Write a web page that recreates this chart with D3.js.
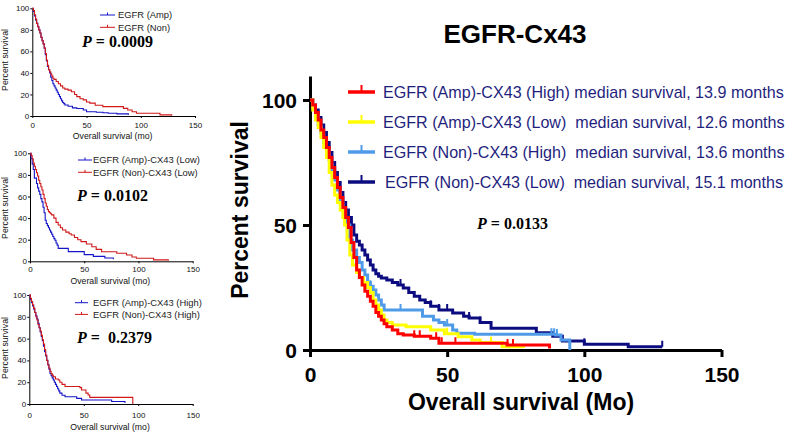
<!DOCTYPE html>
<html>
<head>
<meta charset="utf-8">
<script src="https://cdn.jsdelivr.net/npm/d3@7"></script>
<style>
  body { margin: 0; background: #fff; }
  svg { display: block; }
  text { white-space: pre; }
</style>
</head>
<body>
<svg id="chart" width="792" height="435"></svg>
<script>
// ---------------- DATA ----------------
// Main panel (EGFR-Cx43): [months, percent survival]
const mainTitle = "EGFR-Cx43";
const mainLegend = [
  "EGFR (Amp)-CX43 (High) median survival, 13.9 months",
  "EGFR (Amp)-CX43 (Low)  median survival, 12.6 months",
  "EGFR (Non)-CX43 (High)  median survival, 13.6 months",
  "EGFR (Non)-CX43 (Low)  median survival, 15.1 months"
];
const mainColors = ["#ff0000", "#ffff00", "#4f9be8", "#0c0c80"];
const ampHigh = [[0,100],[1,98],[2,95],[3,92],[4,88],[5,85],[6,81],[7,77],[8,73],[9,69],[10,65],[11,61],[12,57],[13,53],[14,49],[15,43],[16,37],[17,32],[18,29],[19,26],[20,23.5],[21,21.5],[22,19.5],[23,17.5],[24,15],[25,13.5],[26,12],[27,10.5],[28,9.3],[30,8],[32,6.5],[34,6],[38,5.5],[44,4.7],[47,2.7],[71.8,2],[87.3,0.6]];
const ampLow = [[0,100],[1,96],[2,92],[3,89],[4,85],[5,81],[6,77],[7,71],[8,66],[9,62],[10,59],[11,56],[12,53],[12.6,50],[13.5,44],[14.5,38],[15.5,34],[17,31],[18,29],[19.5,27],[21,25],[22,23],[23,20],[24,18],[25,16],[26,14],[27,12],[28,11],[30,10],[35,9.3],[44,8],[49,6.5],[54,5.3],[59,4],[62,3],[70,1.3],[77.8,0.8]];
const nonHigh = [[0,100],[1,97],[2,94],[3,90],[4,87],[5,83],[6,80],[7,76],[8,72],[9,68],[10,64],[11,60],[12,56],[13,52],[13.6,50],[14.5,44],[15.5,40],[17,37],[18,35],[19,32],[20,30],[21,27],[22,25.5],[23,24],[24,22],[25,20],[26,18],[27,16],[40,16],[41,13.5],[45,12],[47,11],[49,10],[52,8],[53.5,6.7],[60,6.3],[89.5,6],[91.5,4],[94.7,0]];
const nonLow = [[0,100],[1,98],[2,96],[3,93],[4,90],[5,87],[6,83],[7,79],[8,75],[9,71],[10,67],[11,63],[12,59],[13,56],[14,53],[15.1,50],[16,46],[17,43.5],[18,42],[19,40],[20,38],[21,36],[22,34],[23,32],[24,30.5],[25,29.5],[26,28.8],[28,28],[30,27],[32,26],[34,24.8],[36,23],[38,21.5],[40,20],[42,19],[44,17.5],[47,16],[52,14.8],[56,13.5],[58,12.8],[62,11],[66,8.7],[82.5,6.9],[88.5,5.5],[92,3.6],[100,2.3],[116,1.3],[128.4,1.3]];
const mainCensors = [
  [38, 40, 46, 48, 53, 72, 74],
  [50, 66],
  [16, 22, 27, 33, 50, 88, 89, 90],
  [33, 44, 47, 50, 58, 62, 100, 128.4]
];
const mainP = "0.0133";
const mainXTicks = [0, 50, 100, 150];
const mainYTicks = [0, 50, 100];

// Small panels
const p1Legend = ["EGFR (Amp)", "EGFR (Non)"];
const p1Amp = [[0,100],[1,97],[2,93],[3,89],[4,86],[5,83],[6,80],[7,77],[8,73],[9,70],[10,67],[11,63],[12,57],[13,51],[14,46],[15,43],[16,40],[17,36],[18,33],[19,30],[20,28],[21,26],[22,24],[23,22],[24,20],[25,18],[26,16],[27,14],[28,12.5],[29,11.5],[30,10.2],[33,9],[37,7.5],[41,7],[47,5.6],[50,4],[59,3.5],[65,3],[70,2.5],[78,2],[88.5,1]];
const p1Non = [[0,100],[1,98],[2,94],[3,90],[4,86],[5,83],[6,80],[7,77],[8,73],[9,70],[10,67],[11,63],[12,58],[13,52],[14,47],[15,43],[16,41],[17,39],[18,37],[19,35],[20,34],[22,32],[24,30],[26,28],[28,26],[30,25],[33,24],[36,22.5],[39,20],[41,18],[44,16],[47,15],[50,13],[53,12],[58,10],[65,8.7],[84,7.1],[88,5.6],[92,4],[96,2.5],[117.7,1],[128.5,0.3]];
const p1P = "0.0009";

const p2Legend = ["EGFR (Amp)-CX43 (Low)", "EGFR (Non)-CX43 (Low)"];
const p2Amp = [[0,100],[1,95],[2,90],[3,85],[4,77],[6,72],[7,68],[8,65],[9,62],[10,58],[11,55],[12,50],[13,45],[14,38],[15,35],[16,33],[17,31],[18,29],[19,27],[20,25],[21,23],[22,21],[23,19.5],[24,17],[25,15],[26,12],[33.8,12],[35.3,9],[47.6,9],[50,6.2],[58.4,4.6],[69,3],[76.8,2]];
const p2Non = [[0,100],[1,98],[2,95],[3,91],[4,88],[5,85],[6,82],[7,79],[8,75],[9,72],[10,69],[11,66],[12,62],[13,58],[14,54],[15,51],[16,48],[17,46],[18,45],[19,44],[20,43],[22,40],[24,36],[26,33.6],[28,31],[30,29],[33,27],[36,25.5],[38,24.4],[41,22],[44,20],[47,18.2],[52,16],[57,13.5],[61,11],[66,8.9],[80,7.5],[89,5.9],[94,4],[98,2.8],[114,1.3],[127.5,0.5]];
const p2P = "0.0102";

const p3Legend = ["EGFR (Amp)-CX43 (High)", "EGFR (Non)-CX43 (High)"];
const p3Amp = [[0,100],[1,96],[2,93],[3,90],[4,87],[5,84],[6,81],[7,78],[8,74],[9,70],[10,66],[11,62],[12,58],[13,53],[14,48],[15,44],[16,40],[17,36],[18,32],[19,28],[20,26],[21,24],[22,22],[23,20],[24,18],[25,16],[26,14],[27,12],[28,10],[30,8],[32.8,6.7],[43.5,5.2],[48,3.7],[75.6,2.3],[87.8,1]];
const p3Non = [[0,100],[1,97],[2,94],[3,91],[4,88],[5,84],[6,80],[7,77],[8,73],[9,70],[10,67],[11,63],[12,59],[13,55],[14,50],[15,45],[16,40],[17,36],[18,33],[19,30],[20,28],[21,26.5],[22,25],[24,23],[26.6,22],[28,20],[30,18],[32.8,16],[46.5,15],[48,12.8],[52,10],[54,8.3],[55.5,6.1],[94.5,6.1],[95,0]];
const p3P = " 0.2379";

const smallXTicks = [0, 50, 100, 150];
const smallYTicks = [0, 20, 40, 60, 80, 100];
const smallColors = ["#1414c8", "#d01818"];

// ---------------- DRAWING ----------------
const svg = d3.select("#chart");
const SANS = "'Liberation Sans', Arial, sans-serif";
const SERIF = "'Liberation Serif', 'Times New Roman', serif";

function survivalAt(data, t) {
  let s = data[0][1];
  for (const d of data) { if (d[0] <= t) s = d[1]; else break; }
  return s;
}

function drawCurve(g, x, y, data, color, width) {
  const line = d3.line().x(d => x(d[0])).y(d => y(d[1])).curve(d3.curveStepAfter);
  g.append("path").attr("d", line(data)).attr("fill", "none")
    .attr("stroke", color).attr("stroke-width", width).attr("stroke-linejoin", "miter");
}

// ---- small panel ----
function smallPanel(cfg) {
  const x = d3.scaleLinear().domain([0, 150]).range([cfg.x0, cfg.x1]);
  const y = d3.scaleLinear().domain([0, 100]).range([cfg.y0, cfg.y1]);
  const g = svg.append("g");

  const ya = g.append("g").attr("transform", `translate(${cfg.x0},0)`)
    .call(d3.axisLeft(y).tickValues(smallYTicks).tickSize(2).tickSizeOuter(0));
  const xa = g.append("g").attr("transform", `translate(0,${cfg.y0})`)
    .call(d3.axisBottom(x).tickValues(smallXTicks).tickSize(2).tickSizeOuter(0));
  [ya, xa].forEach(a => {
    a.selectAll("path,line").attr("stroke", "#000").attr("stroke-width", 1);
    a.selectAll("text").attr("font-family", SANS).attr("font-size", 8).attr("fill", "#111");
  });
  xa.selectAll("text").attr("dy", null).attr("y", cfg.xTickBase - cfg.y0);
  ya.selectAll("text").attr("x", -3);

  g.append("text").attr("transform", `translate(${cfg.yLabX},${cfg.yLabY}) rotate(-90)`)
    .attr("text-anchor", "middle").attr("font-family", SANS).attr("font-size", 8.7)
    .attr("fill", "#111").text("Percent survival");
  g.append("text").attr("x", (cfg.x0 + cfg.x1) / 2 - 1).attr("y", cfg.xLabBase)
    .attr("text-anchor", "middle").attr("font-family", SANS).attr("font-size", 8.7)
    .attr("fill", "#111").text("Overall survival (mo)");

  // curves: blue first, red on top
  drawCurve(g, x, y, cfg.series[0], smallColors[0], 1.1);
  drawCurve(g, x, y, cfg.series[1], smallColors[1], 1.1);

  cfg.legend.forEach((lab, i) => {
    const ly = cfg.legY + i * cfg.legStep;
    g.append("line").attr("x1", cfg.legX).attr("x2", cfg.legX + cfg.legLen)
      .attr("y1", ly).attr("y2", ly).attr("stroke", smallColors[i]).attr("stroke-width", 1);
    g.append("line").attr("x1", cfg.legX + cfg.legLen / 2).attr("x2", cfg.legX + cfg.legLen / 2)
      .attr("y1", ly).attr("y2", ly - 2.5).attr("stroke", smallColors[i]).attr("stroke-width", 1);
    g.append("text").attr("x", cfg.legTextX).attr("y", ly + 3.2).attr("font-family", SANS)
      .attr("font-size", 9.4).attr("fill", "#222").text(lab);
  });

  const pt = g.append("text").attr("x", cfg.pX).attr("y", cfg.pY)
    .attr("font-family", SERIF).attr("font-weight", "bold").attr("font-size", 16).attr("fill", "#000");
  pt.append("tspan").attr("font-style", "italic").text("P");
  pt.append("tspan").text(" = " + cfg.p);
}

smallPanel({ x0: 32.3, x1: 195, y0: 116, y1: 8.3, xTickBase: 128, xLabBase: 138.5,
  yLabX: 8, yLabY: 60, series: [p1Amp, p1Non], legend: p1Legend,
  legX: 100, legLen: 15, legTextX: 118, legY: 15, legStep: 12.3, p: p1P, pX: 82, pY: 47 });
smallPanel({ x0: 30, x1: 192.7, y0: 261.3, y1: 153.3, xTickBase: 272.5, xLabBase: 283.5,
  yLabX: 7.5, yLabY: 208, series: [p2Amp, p2Non], legend: p2Legend,
  legX: 78, legLen: 14, legTextX: 93, legY: 160, legStep: 12.3, p: p2P, pX: 77, pY: 201 });
smallPanel({ x0: 29.3, x1: 192.7, y0: 404, y1: 295, xTickBase: 418, xLabBase: 430,
  yLabX: 7.5, yLabY: 348, series: [p3Amp, p3Non], legend: p3Legend,
  legX: 75, legLen: 13, legTextX: 93, legY: 302.7, legStep: 11.7, p: p3P, pX: 77, pY: 343 });

// ---- main panel ----
(function mainPanel() {
  const x = d3.scaleLinear().domain([0, 150]).range([310, 721.5]);
  const y = d3.scaleLinear().domain([0, 109.6]).range([350, 76]);
  const g = svg.append("g");

  g.append("text").attr("x", 515).attr("y", 43).attr("text-anchor", "middle")
    .attr("font-family", SANS).attr("font-weight", "bold").attr("font-size", 26)
    .attr("fill", "#000").text(mainTitle);

  const ya = g.append("g").attr("transform", "translate(310,0)")
    .call(d3.axisLeft(y).tickValues(mainYTicks).tickSize(7).tickSizeOuter(0));
  const xa = g.append("g").attr("transform", "translate(0,350)")
    .call(d3.axisBottom(x).tickValues(mainXTicks).tickSize(7).tickSizeOuter(0));
  [ya, xa].forEach(a => {
    a.selectAll("path,line").attr("stroke", "#000").attr("stroke-width", 3);
    a.selectAll("text").attr("font-family", SANS).attr("font-weight", "bold")
      .attr("font-size", 21).attr("fill", "#000");
  });
  ya.selectAll("text").attr("x", -13).attr("dy", "0.36em");
  xa.selectAll("text").attr("dy", null).attr("y", 32);

  g.append("text").attr("transform", "translate(248,210) rotate(-90)")
    .attr("text-anchor", "middle").attr("font-family", SANS).attr("font-weight", "bold")
    .attr("font-size", 23).attr("fill", "#000").text("Percent survival");
  g.append("text").attr("x", 521).attr("y", 410).attr("text-anchor", "middle")
    .attr("font-family", SANS).attr("font-weight", "bold").attr("font-size", 23)
    .attr("fill", "#000").text("Overall survival (Mo)");

  const series = [ampHigh, ampLow, nonHigh, nonLow];
  const order = [3, 2, 1, 0];
  order.forEach(i => {
    drawCurve(g, x, y, series[i], mainColors[i], 3);
    mainCensors[i].forEach(t => {
      const s = survivalAt(series[i], t);
      g.append("line").attr("x1", x(t)).attr("x2", x(t))
        .attr("y1", y(s)).attr("y2", y(s) - 6)
        .attr("stroke", mainColors[i]).attr("stroke-width", 2);
    });
  });

  mainLegend.forEach((lab, i) => {
    const ly = 92 + i * 30;
    const lx = 348;
    g.append("line").attr("x1", lx).attr("x2", lx + 27).attr("y1", ly).attr("y2", ly)
      .attr("stroke", mainColors[i]).attr("stroke-width", 3.5);
    g.append("line").attr("x1", lx + 13.5).attr("x2", lx + 13.5).attr("y1", ly).attr("y2", ly - 7)
      .attr("stroke", mainColors[i]).attr("stroke-width", 2);
    g.append("text").attr("x", i === 3 ? 385 : 383).attr("y", ly + 6)
      .attr("font-family", SANS).attr("font-size", 16.1).attr("fill", "#1f1f7e").text(lab);
  });

  const pt = g.append("text").attr("x", 477).attr("y", 229)
    .attr("font-family", SERIF).attr("font-weight", "bold").attr("font-size", 16).attr("fill", "#000");
  pt.append("tspan").attr("font-style", "italic").text("P");
  pt.append("tspan").text(" = " + mainP);
})();
</script>
</body>
</html>
